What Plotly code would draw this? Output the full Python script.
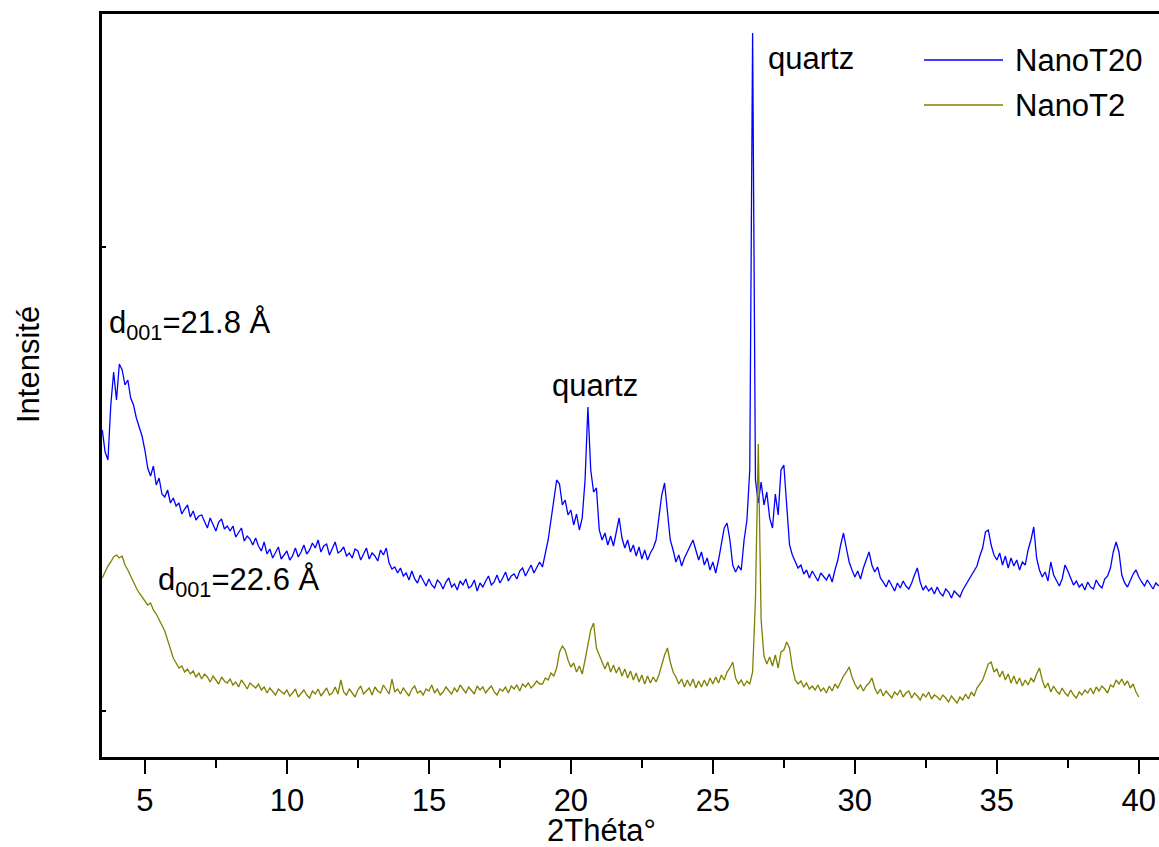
import numpy as np
import plotly.graph_objects as go

# 2theta grid start / step (degrees)
two_theta_start = 3.5
two_theta_step = 0.1

# NanoT20 intensity (a.u.), 3.5 .. 40.7 deg
nanoT20 = [
    327, 305, 297, 352, 385,
    357, 393, 387, 372, 377, 359, 352, 339, 329, 321,
    307, 289, 281, 291, 272, 279, 263, 260, 267, 254,
    259, 251, 254, 243, 248, 252, 240, 246, 237, 241,
    242, 236, 229, 239, 233, 226, 235, 238, 228, 231,
    226, 231, 220, 224, 229, 216, 221, 218, 212, 219,
    211, 206, 215, 203, 208, 199, 204, 210, 198, 202,
    206, 197, 201, 209, 200, 205, 212, 203, 207, 214,
    209, 217, 205, 211, 213, 202, 208, 215, 204, 206,
    210, 201, 204, 199, 208, 206, 197, 203, 209, 198,
    204, 201, 196, 207, 202, 209, 194, 188, 190, 184,
    189, 181, 184, 177, 186, 178, 174, 182, 176, 171,
    178, 172, 169, 177, 174, 168, 175, 179, 170, 173,
    167, 176, 172, 178, 169, 171, 177, 166, 174, 170,
    176, 181, 172, 175, 182, 174, 179, 185, 176, 181,
    183, 178, 186, 189, 181, 187, 192, 184, 190, 195,
    190, 205, 217, 237, 259, 277, 273, 252, 257, 242,
    247, 232, 243, 227, 239, 277, 350, 287, 265, 269,
    227, 217, 224, 212, 221, 211, 225, 239, 219, 209,
    217, 205, 212, 201, 210, 198, 207, 197, 204, 209,
    217, 237, 262, 274, 247, 217, 207, 195, 202, 191,
    199, 205, 212, 217, 207, 197, 205, 192, 199, 187,
    195, 184, 197, 212, 229, 234, 217, 192, 185, 191,
    187, 217, 237, 287, 724, 277, 254, 275, 252, 265,
    239, 229, 263, 242, 287, 292, 252, 212, 202, 195,
    189, 192, 183, 187, 179, 186, 181, 176, 184, 180,
    177, 183, 175, 187, 197, 212, 224, 209, 195, 187,
    180, 186, 178, 189, 197, 205, 192, 185, 190, 179,
    175, 170, 177, 172, 166, 174, 169, 176, 171, 168,
    174, 182, 189, 175, 167, 171, 166, 169, 163, 170,
    164, 161, 168, 165, 159, 166, 163, 160, 167, 172,
    177, 181, 187, 191, 201, 209, 225, 227, 212, 202,
    197, 204, 192, 201, 189, 199, 191, 197, 187, 195,
    192, 207, 217, 230, 199, 187, 180, 185, 176, 195,
    182, 176, 171, 178, 192, 186, 179, 172, 176, 170,
    173, 167, 175, 170, 168, 177, 172, 169, 178, 181,
    189, 205, 215, 205, 182, 174, 170, 177, 183, 187,
    180, 175, 171, 177, 173, 168, 174, 171,
]

# NanoT2 intensity (a.u.), 3.5 .. 40.0 deg
nanoT2 = [
    179, 185, 191, 195, 200,
    202, 199, 201, 192, 187, 181, 174, 169, 164, 160,
    157, 152, 154, 147, 143, 137, 132, 126, 117, 107,
    99, 94, 89, 91, 85, 88, 83, 86, 80, 84,
    78, 83, 80, 75, 81, 77, 73, 80, 76, 74,
    78, 72, 75, 70, 77, 73, 68, 74, 71, 69,
    73, 67, 70, 64, 69, 66, 62, 68, 65, 63,
    67, 61, 64, 68, 60, 63, 67, 62, 59, 66,
    63, 68, 61, 65, 69, 62, 64, 70, 63, 77,
    65, 62, 68, 64, 60, 67, 71, 63, 66, 69,
    62, 70, 66, 64, 72, 67, 63, 78, 65, 68,
    63, 69, 65, 61, 68, 71, 64, 66, 62, 68,
    66, 72, 64, 68, 62, 65, 70, 67, 63, 69,
    65, 72, 68, 64, 70, 66, 63, 71, 67, 70,
    64, 68, 71, 65, 62, 68, 66, 70, 64, 71,
    68, 72, 66, 73, 70, 74, 69, 72, 76, 73,
    73, 79, 77, 84, 81, 89, 105, 111, 107, 97,
    90, 94, 85, 91, 83, 97, 112, 127, 134, 109,
    102, 94, 88, 95, 85, 92, 84, 90, 81, 88,
    79, 86, 77, 84, 75, 82, 73, 81, 74, 80,
    75, 82, 92, 102, 109, 95, 85, 80, 73, 78,
    70, 77, 71, 78, 69, 76, 70, 77, 71, 79,
    73, 80, 74, 82, 77, 85, 89, 95, 79, 73,
    77, 71, 76, 73, 85, 157, 313, 137, 101, 93,
    100, 91, 102, 89, 105, 107, 115, 109, 89, 77,
    73, 76, 70, 74, 68, 71, 67, 72, 66, 69,
    64, 71, 66, 73, 69, 75, 81, 85, 90, 80,
    73, 68, 72, 66, 71, 74, 79, 69, 63, 68,
    61, 66, 63, 59, 65, 62, 67, 60, 64, 66,
    59, 64, 61, 57, 63, 60, 65, 58, 62, 60,
    57, 62, 59, 55, 61, 58, 54, 60, 57, 63,
    58, 65, 61, 69, 73, 77, 85, 93, 95, 85,
    88, 80, 86, 77, 83, 74, 81, 73, 79, 71,
    77, 72, 79, 75, 83, 89, 77, 69, 74, 65,
    71, 66, 63, 69, 64, 61, 67, 62, 59, 65,
    62, 67, 64, 69, 63, 70, 66, 71, 68, 64,
    72, 70, 77, 73, 78, 72, 76, 69, 73, 65,
    60,
]

series_names = ["NanoT20", "NanoT2"]
series_colors = ["#0000FF", "#808000"]
x_tick_values = [5, 10, 15, 20, 25, 30, 35, 40]
x_tick_labels = ["5", "10", "15", "20", "25", "30", "35", "40"]

x20 = np.round(two_theta_start + two_theta_step * np.arange(len(nanoT20)), 2)
x2 = np.round(two_theta_start + two_theta_step * np.arange(len(nanoT2)), 2)

FONT = "Liberation Sans, Arial, sans-serif"
FS = 31

fig = go.Figure()
fig.add_trace(go.Scatter(x=x20, y=nanoT20, mode="lines", name=series_names[0],
                         line=dict(color=series_colors[0], width=1.3)))
fig.add_trace(go.Scatter(x=x2, y=nanoT2, mode="lines", name=series_names[1],
                         line=dict(color=series_colors[1], width=1.3)))

# page body margin is removed below, so layout is in window pixels
W, H = 1159, 847
L, T, B, R = 102, 14, H - 757, 0
pw = W - L - R
ph = H - T - B

def px_x(p):
    return (p - L) / pw

def px_y(p):
    return (757 - p) / ph

fig.update_layout(
    width=W, height=H,
    margin=dict(l=L, r=R, t=T, b=B, autoexpand=False),
    paper_bgcolor="white", plot_bgcolor="white",
    showlegend=False,
    font=dict(family=FONT, size=FS, color="black"),
)
fig.update_xaxes(
    range=[3.49, 40.71], tickvals=x_tick_values, ticktext=x_tick_labels,
    ticks="outside", ticklen=14, tickwidth=2, tickcolor="black",
    minor=dict(dtick=2.5, tick0=0, ticks="outside", ticklen=8, tickwidth=2, tickcolor="black"),
    showline=True, linecolor="black", linewidth=2.5, mirror=True,
    showgrid=False, zeroline=False, automargin=False,
    tickfont=dict(family=FONT, size=FS, color="black"),
)
fig.update_yaxes(
    range=[0, 743], tickvals=[46, 510], showticklabels=False,
    ticks="inside", ticklen=4, tickwidth=1.5, tickcolor="black",
    showline=True, linecolor="black", linewidth=2.5, mirror=False,
    showgrid=False, zeroline=False, automargin=False,
)

annos = [
    dict(x=px_x(601), y=px_y(830), text="2Théta°"),
    dict(x=px_x(28), y=px_y(365), text="Intensité", textangle=-90),
]
for a in annos:
    fig.add_annotation(xref="paper", yref="paper", showarrow=False,
                       xanchor="center", yanchor="middle",
                       font=dict(family=FONT, size=FS, color="black"), **a)

labels = [
    (3.68, 432, "d<sub>001</sub>=21.8 Å", "left"),
    (5.4, 175, "d<sub>001</sub>=22.6 Å", "left"),
    (20.85, 372, "quartz", "center"),
    (28.45, 699, "quartz", "center"),
]
for xv, yv, txt, anc in labels:
    fig.add_annotation(x=xv, y=yv, text=txt, showarrow=False, xanchor=anc,
                       yanchor="middle", font=dict(family=FONT, size=FS, color="black"))

# custom legend
leg_y = [60, 105]
for name, col, yy in zip(series_names, series_colors, leg_y):
    fig.add_shape(type="line", xref="paper", yref="paper",
                  x0=px_x(924), x1=px_x(1003), y0=px_y(yy), y1=px_y(yy),
                  line=dict(color=col, width=1.3))
    fig.add_annotation(xref="paper", yref="paper", x=px_x(1013), y=px_y(yy),
                       text=name, showarrow=False, xanchor="left", yanchor="middle",
                       font=dict(family=FONT, size=FS, color="black"))

fig.write_html(
    "out.html",
    config={"displayModeBar": False},
    post_script="document.body.style.margin='0';document.body.style.overflow='hidden';",
)
